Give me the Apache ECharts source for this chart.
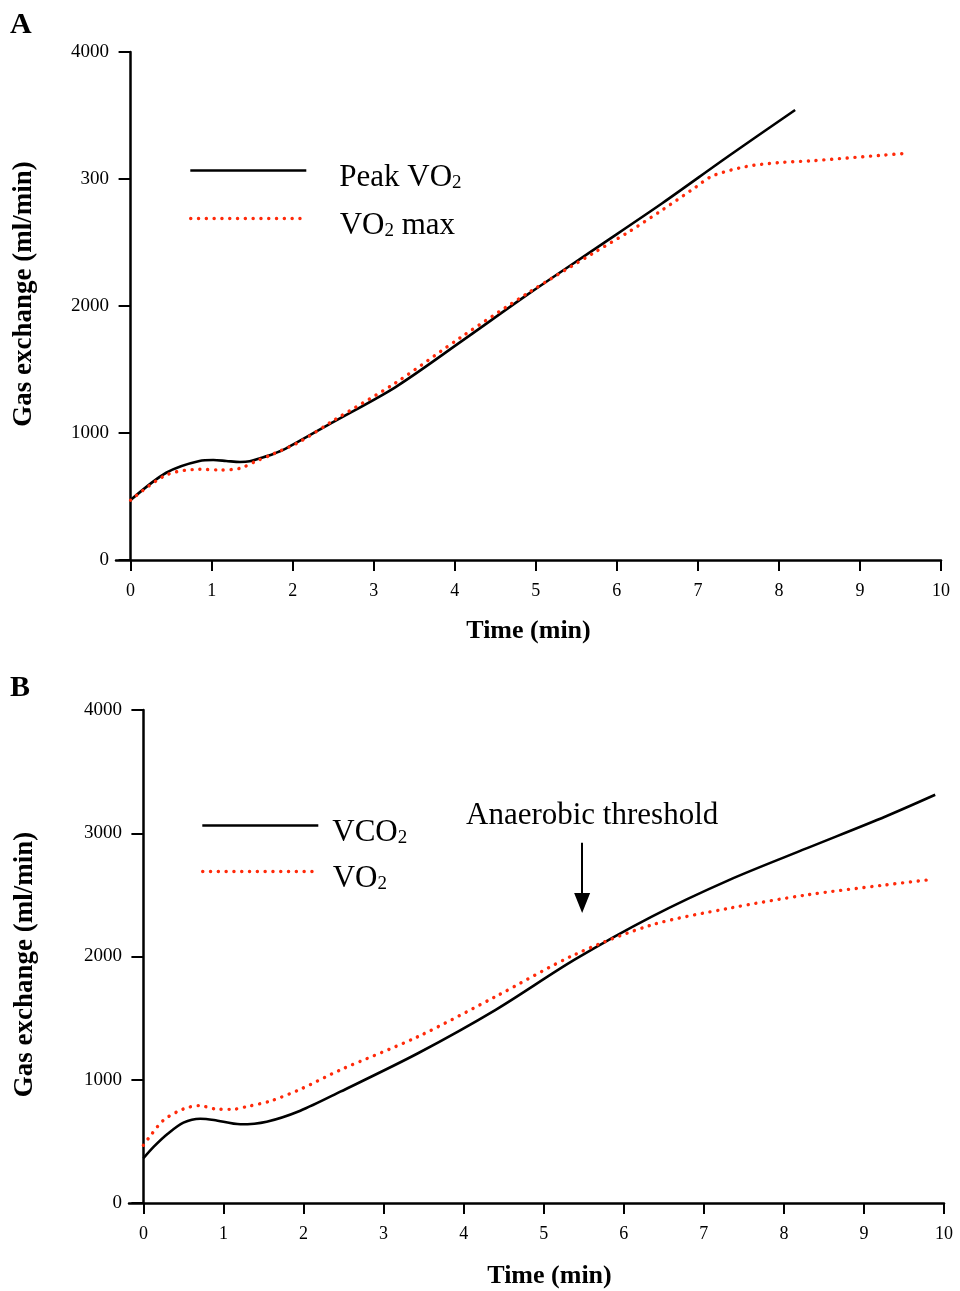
<!DOCTYPE html>
<html>
<head>
<meta charset="utf-8">
<title>Gas exchange during exercise</title>
<script src="https://cdn.jsdelivr.net/npm/echarts@6/dist/echarts.min.js"></script>
<style>
  html, body { margin: 0; padding: 0; background: #fff; }
  #main { width: 960px; height: 1291px; }
</style>
</head>
<body>
<div id="main"></div>
<script>
  // x ticks (min)
  var timeTicks = [0, 1, 2, 3, 4, 5, 6, 7, 8, 9, 10];
  // y tick labels, the "300" is printed like that in panel A
  var yTickLabelsA = ['0', '1000', '2000', '300', '4000'];
  var yTickLabelsB = ['0', '1000', '2000', '3000', '4000'];

  // panel A - Peak VO2 (solid black)
  var peakT = [0, 0.44, 0.85, 1.02, 1.18, 1.35, 1.47, 1.59, 1.76, 1.92, 2.47, 3.27, 4.09, 4.91, 5.74, 6.56, 7.38, 8.2];
  var peakV = [472, 687, 780, 787, 780, 772, 777, 800, 835, 879, 1076, 1362, 1725, 2095, 2454, 2809, 3181, 3543];
  // panel A - VO2 max (red dots)
  var vo2maxT = [0, 0.44, 0.85, 1.1, 1.35, 1.55, 1.75, 2.09, 2.5, 3.27, 4.09, 4.91, 5.74, 6.15, 6.56, 6.97, 7.18, 7.59, 8.0, 8.42, 8.84, 9.25, 9.57];
  var vo2maxV = [471, 669, 714, 709, 722, 779, 832, 932, 1097, 1395, 1760, 2105, 2428, 2585, 2756, 2934, 3024, 3097, 3129, 3144, 3165, 3186, 3202];

  // panel B - VCO2 (solid black)
  var vco2T = [0, 0.13, 0.3, 0.5, 0.71, 0.88, 1.21, 1.54, 1.96, 2.46, 3.43, 4.4, 5.38, 6.35, 7.32, 8.29, 9.27, 9.89];
  var vco2V = [363, 457, 560, 652, 684, 674, 639, 660, 749, 903, 1215, 1567, 1972, 2324, 2622, 2879, 3136, 3312];
  // panel B - VO2 (red dots)
  var vo2T = [0, 0.06, 0.25, 0.5, 0.7, 0.9, 1.11, 1.29, 1.59, 1.96, 2.46, 3.43, 4.4, 5.38, 6.35, 7.32, 8.29, 9.27, 9.87];
  var vo2V = [468, 522, 671, 763, 790, 763, 760, 782, 828, 923, 1080, 1350, 1675, 2013, 2256, 2392, 2500, 2581, 2627];

  // anaerobic threshold arrow (time, value at top and at arrow head)
  var thresholdT = [5.48, 5.48];
  var thresholdV = [2922, 2435];

  var serif = "'Liberation Serif', 'Times New Roman', serif";
  var RED = '#ff2a0a';
  var solidStyle = { color: '#000', width: 2.6 };
  var dotStyle = { color: RED, width: 3.4, type: [0.1, 7.7], cap: 'round' };

  function pairs(t, v) {
    return t.map(function (x, i) { return [x, v[i]]; });
  }

  var legendText = {
    'Peak VO2': '{n|Peak VO}{s|2}',
    'VO2 max': '{n|VO}{s|2}{n| max}',
    'VCO2': '{n|VCO}{s|2}',
    'VO2': '{n|VO}{s|2}'
  };
  // subscript sits on the bottom of a taller line box
  var rich = {
    n: { fontFamily: serif, fontSize: 31, color: '#000', lineHeight: 31, verticalAlign: 'top', padding: [0, 0, 6, 0] },
    s: { fontFamily: serif, fontSize: 19, color: '#000', verticalAlign: 'bottom', lineHeight: 3 }
  };

  function legendAt(name, left, top, gap, lineStyle) {
    return {
      data: [name], left: left, top: top, padding: 0,
      itemWidth: 116, itemHeight: 14,
      selectedMode: false,
      lineStyle: lineStyle,
      itemStyle: { opacity: 0, borderWidth: 0 },
      formatter: function (n) { return legendText[n]; },
      textStyle: { fontFamily: serif, fontSize: 31, color: '#000', padding: [14, 0, 0, gap], rich: rich }
    };
  }

  function xAxisFor(gi, gap, namePad) {
    return {
      type: 'value', gridIndex: gi, min: -0.18, max: 10,
      name: 'Time (min)', nameLocation: 'middle', nameGap: gap,
      nameTextStyle: { fontFamily: serif, fontSize: 26, fontWeight: 'bold', color: '#000', padding: namePad },
      axisLine: { show: true, onZero: true, lineStyle: { color: '#000', width: 2.5 } },
      axisTick: { show: true, length: 11, customValues: timeTicks, lineStyle: { color: '#000', width: 2 } },
      axisLabel: { customValues: timeTicks, margin: 22, fontFamily: serif, fontSize: 18, color: '#000' },
      splitLine: { show: false }
    };
  }

  function yAxisFor(gi, labels, gap, namePad) {
    return {
      type: 'value', gridIndex: gi, min: 0, max: 4000, interval: 1000,
      name: 'Gas exchange (ml/min)', nameLocation: 'middle', nameRotate: 90, nameGap: gap,
      nameTextStyle: { fontFamily: serif, fontSize: 27, fontWeight: 'bold', color: '#000', padding: namePad },
      axisLine: { show: true, onZero: true, lineStyle: { color: '#000', width: 2.5 } },
      axisTick: { show: true, length: 12, lineStyle: { color: '#000', width: 2 } },
      axisLabel: {
        margin: 7, fontFamily: serif, fontSize: 19, color: '#000',
        formatter: function (v) { return labels[Math.round(v / 1000)]; }
      },
      splitLine: { show: false }
    };
  }

  function lineSeries(name, gi, t, v, style) {
    return {
      name: name, type: 'line', xAxisIndex: gi, yAxisIndex: gi,
      data: pairs(t, v), smooth: 0.3, symbol: 'none',
      lineStyle: style,
      itemStyle: { color: style.color }
    };
  }

  var vco2Series = lineSeries('VCO2', 1, vco2T, vco2V, solidStyle);
  vco2Series.markLine = {
    silent: true,
    symbol: ['none', 'triangle'],
    symbolSize: [16, 20],
    lineStyle: { color: '#000', width: 2, type: 'solid' },
    label: {
      show: true, position: 'start', distance: 12,
      formatter: 'Anaerobic threshold',
      fontFamily: serif, fontSize: 31, color: '#000',
      padding: [0, 0, 0, 20]
    },
    data: [[
      { coord: [thresholdT[0], thresholdV[0]] },
      { coord: [thresholdT[1], thresholdV[1]] }
    ]]
  };

  var myChart = echarts.init(document.getElementById('main'));
  var option = {
    animation: false,
    backgroundColor: '#fff',
    grid: [
      { left: 116, right: 19, top: 52, bottom: 731, outerBoundsMode: 'none' },
      { left: 129, right: 16, top: 710, bottom: 88, outerBoundsMode: 'none' }
    ],
    xAxis: [xAxisFor(0, 58, [0, 0, 0, 0]), xAxisFor(1, 60, [0, 0, 0, 26])],
    yAxis: [yAxisFor(0, yTickLabelsA, 78, [0, 0, 0, 24]), yAxisFor(1, yTickLabelsB, 90, [0, 16, 0, 0])],
    legend: [
      legendAt('Peak VO2', 189, 162, 28, solidStyle),
      legendAt('VO2 max', 189, 210, 28, dotStyle),
      legendAt('VCO2', 201, 817, 9, solidStyle),
      legendAt('VO2', 201, 863, 9, dotStyle)
    ],
    graphic: [
      { type: 'text', left: 10, top: 10, style: { text: 'A', fontFamily: serif, fontSize: 30, fontWeight: 'bold', fill: '#000' } },
      { type: 'text', left: 10, top: 673, style: { text: 'B', fontFamily: serif, fontSize: 30, fontWeight: 'bold', fill: '#000' } }
    ],
    series: [
      lineSeries('Peak VO2', 0, peakT, peakV, solidStyle),
      lineSeries('VO2 max', 0, vo2maxT, vo2maxV, dotStyle),
      vco2Series,
      lineSeries('VO2', 1, vo2T, vo2V, dotStyle)
    ]
  };
  myChart.setOption(option);
</script>
</body>
</html>
